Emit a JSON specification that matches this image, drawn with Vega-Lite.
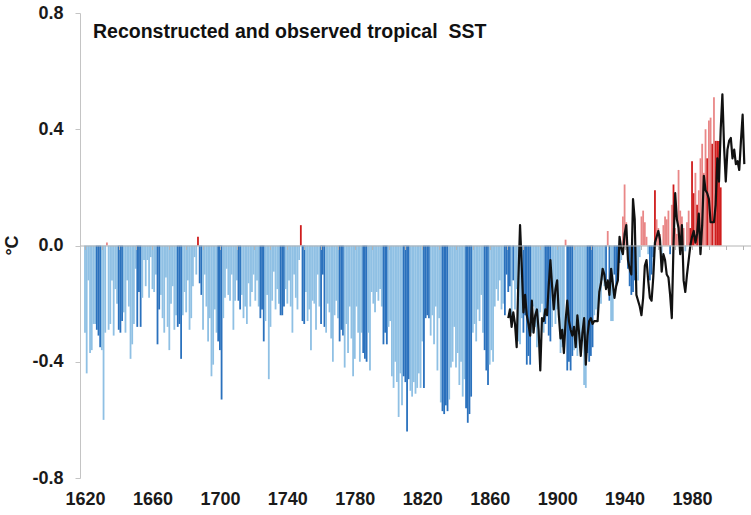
{
  "$schema": "https://vega.github.io/schema/vega-lite/v6.json",
  "width": 671,
  "height": 465,
  "autosize": {"type": "none"},
  "padding": {"left": 80, "top": 13, "right": 0, "bottom": 37},
  "background": "white",
  "config": {
    "view": {"stroke": null},
    "font": "Liberation Sans",
    "axis": {"labelFont": "Liberation Sans", "titleFont": "Liberation Sans", "grid": false}
  },
  "title": {
    "text": "Reconstructed and observed tropical\u00a0 SST",
    "anchor": "start",
    "frame": "group",
    "orient": "top",
    "offset": 0,
    "dx": 13,
    "dy": 53,
    "baseline": "alphabetic",
    "font": "Liberation Sans",
    "fontSize": 19.5,
    "fontWeight": "bold",
    "color": "#111111"
  },
  "datasets": {
    "reconstructed": [
      {"year": 1620, "anomaly": -0.30, "shade": "light"},
      {"year": 1621, "anomaly": -0.44, "shade": "light"},
      {"year": 1622, "anomaly": -0.12, "shade": "light"},
      {"year": 1623, "anomaly": -0.37, "shade": "light"},
      {"year": 1624, "anomaly": -0.36, "shade": "light"},
      {"year": 1625, "anomaly": -0.27, "shade": "light"},
      {"year": 1626, "anomaly": -0.27, "shade": "light"},
      {"year": 1627, "anomaly": -0.29, "shade": "dark"},
      {"year": 1628, "anomaly": -0.31, "shade": "dark"},
      {"year": 1629, "anomaly": -0.35, "shade": "dark"},
      {"year": 1630, "anomaly": -0.36, "shade": "light"},
      {"year": 1631, "anomaly": -0.60, "shade": "light"},
      {"year": 1632, "anomaly": -0.30, "shade": "light"},
      {"year": 1633, "anomaly": 0.01, "shade": "light"},
      {"year": 1634, "anomaly": -0.29, "shade": "light"},
      {"year": 1635, "anomaly": -0.27, "shade": "light"},
      {"year": 1636, "anomaly": -0.12, "shade": "light"},
      {"year": 1637, "anomaly": -0.31, "shade": "light"},
      {"year": 1638, "anomaly": -0.15, "shade": "light"},
      {"year": 1639, "anomaly": -0.20, "shade": "light"},
      {"year": 1640, "anomaly": -0.29, "shade": "dark"},
      {"year": 1641, "anomaly": -0.30, "shade": "dark"},
      {"year": 1642, "anomaly": -0.26, "shade": "dark"},
      {"year": 1643, "anomaly": -0.23, "shade": "light"},
      {"year": 1644, "anomaly": -0.30, "shade": "light"},
      {"year": 1645, "anomaly": -0.12, "shade": "light"},
      {"year": 1646, "anomaly": -0.21, "shade": "light"},
      {"year": 1647, "anomaly": -0.39, "shade": "light"},
      {"year": 1648, "anomaly": -0.34, "shade": "light"},
      {"year": 1649, "anomaly": -0.27, "shade": "light"},
      {"year": 1650, "anomaly": -0.08, "shade": "light"},
      {"year": 1651, "anomaly": -0.28, "shade": "dark"},
      {"year": 1652, "anomaly": -0.16, "shade": "dark"},
      {"year": 1653, "anomaly": -0.28, "shade": "dark"},
      {"year": 1654, "anomaly": -0.18, "shade": "light"},
      {"year": 1655, "anomaly": -0.05, "shade": "light"},
      {"year": 1656, "anomaly": -0.14, "shade": "light"},
      {"year": 1657, "anomaly": -0.05, "shade": "light"},
      {"year": 1658, "anomaly": -0.18, "shade": "light"},
      {"year": 1659, "anomaly": -0.04, "shade": "light"},
      {"year": 1660, "anomaly": -0.15, "shade": "light"},
      {"year": 1661, "anomaly": -0.16, "shade": "light"},
      {"year": 1662, "anomaly": -0.10, "shade": "light"},
      {"year": 1663, "anomaly": -0.34, "shade": "dark"},
      {"year": 1664, "anomaly": -0.22, "shade": "dark"},
      {"year": 1665, "anomaly": -0.17, "shade": "light"},
      {"year": 1666, "anomaly": -0.25, "shade": "light"},
      {"year": 1667, "anomaly": -0.30, "shade": "light"},
      {"year": 1668, "anomaly": -0.11, "shade": "light"},
      {"year": 1669, "anomaly": -0.28, "shade": "light"},
      {"year": 1670, "anomaly": -0.36, "shade": "light"},
      {"year": 1671, "anomaly": -0.20, "shade": "light"},
      {"year": 1672, "anomaly": -0.14, "shade": "light"},
      {"year": 1673, "anomaly": -0.29, "shade": "light"},
      {"year": 1674, "anomaly": -0.24, "shade": "light"},
      {"year": 1675, "anomaly": -0.28, "shade": "dark"},
      {"year": 1676, "anomaly": -0.27, "shade": "dark"},
      {"year": 1677, "anomaly": -0.39, "shade": "dark"},
      {"year": 1678, "anomaly": -0.24, "shade": "light"},
      {"year": 1679, "anomaly": -0.16, "shade": "light"},
      {"year": 1680, "anomaly": -0.23, "shade": "light"},
      {"year": 1681, "anomaly": -0.12, "shade": "light"},
      {"year": 1682, "anomaly": -0.29, "shade": "light"},
      {"year": 1683, "anomaly": -0.25, "shade": "light"},
      {"year": 1684, "anomaly": -0.14, "shade": "light"},
      {"year": 1685, "anomaly": -0.04, "shade": "light"},
      {"year": 1686, "anomaly": -0.10, "shade": "light"},
      {"year": 1687, "anomaly": 0.03, "shade": "dark"},
      {"year": 1688, "anomaly": -0.13, "shade": "dark"},
      {"year": 1689, "anomaly": -0.17, "shade": "dark"},
      {"year": 1690, "anomaly": -0.29, "shade": "light"},
      {"year": 1691, "anomaly": -0.10, "shade": "light"},
      {"year": 1692, "anomaly": -0.21, "shade": "light"},
      {"year": 1693, "anomaly": -0.33, "shade": "light"},
      {"year": 1694, "anomaly": -0.25, "shade": "light"},
      {"year": 1695, "anomaly": -0.45, "shade": "light"},
      {"year": 1696, "anomaly": -0.41, "shade": "light"},
      {"year": 1697, "anomaly": -0.22, "shade": "light"},
      {"year": 1698, "anomaly": -0.30, "shade": "light"},
      {"year": 1699, "anomaly": -0.33, "shade": "dark"},
      {"year": 1700, "anomaly": -0.36, "shade": "dark"},
      {"year": 1701, "anomaly": -0.53, "shade": "dark"},
      {"year": 1702, "anomaly": -0.25, "shade": "light"},
      {"year": 1703, "anomaly": -0.18, "shade": "light"},
      {"year": 1704, "anomaly": -0.08, "shade": "light"},
      {"year": 1705, "anomaly": -0.17, "shade": "light"},
      {"year": 1706, "anomaly": -0.19, "shade": "light"},
      {"year": 1707, "anomaly": -0.10, "shade": "light"},
      {"year": 1708, "anomaly": -0.29, "shade": "light"},
      {"year": 1709, "anomaly": -0.19, "shade": "light"},
      {"year": 1710, "anomaly": -0.12, "shade": "light"},
      {"year": 1711, "anomaly": -0.19, "shade": "dark"},
      {"year": 1712, "anomaly": -0.22, "shade": "dark"},
      {"year": 1713, "anomaly": -0.17, "shade": "light"},
      {"year": 1714, "anomaly": -0.25, "shade": "light"},
      {"year": 1715, "anomaly": -0.21, "shade": "light"},
      {"year": 1716, "anomaly": -0.27, "shade": "light"},
      {"year": 1717, "anomaly": -0.13, "shade": "light"},
      {"year": 1718, "anomaly": -0.21, "shade": "light"},
      {"year": 1719, "anomaly": -0.16, "shade": "light"},
      {"year": 1720, "anomaly": -0.10, "shade": "light"},
      {"year": 1721, "anomaly": -0.19, "shade": "light"},
      {"year": 1722, "anomaly": -0.12, "shade": "light"},
      {"year": 1723, "anomaly": -0.21, "shade": "light"},
      {"year": 1724, "anomaly": -0.25, "shade": "dark"},
      {"year": 1725, "anomaly": -0.22, "shade": "dark"},
      {"year": 1726, "anomaly": -0.33, "shade": "dark"},
      {"year": 1727, "anomaly": -0.26, "shade": "light"},
      {"year": 1728, "anomaly": -0.17, "shade": "light"},
      {"year": 1729, "anomaly": -0.46, "shade": "light"},
      {"year": 1730, "anomaly": -0.28, "shade": "light"},
      {"year": 1731, "anomaly": -0.19, "shade": "light"},
      {"year": 1732, "anomaly": -0.09, "shade": "light"},
      {"year": 1733, "anomaly": -0.22, "shade": "light"},
      {"year": 1734, "anomaly": -0.15, "shade": "light"},
      {"year": 1735, "anomaly": -0.20, "shade": "light"},
      {"year": 1736, "anomaly": -0.24, "shade": "dark"},
      {"year": 1737, "anomaly": -0.24, "shade": "dark"},
      {"year": 1738, "anomaly": -0.21, "shade": "dark"},
      {"year": 1739, "anomaly": -0.15, "shade": "light"},
      {"year": 1740, "anomaly": -0.20, "shade": "light"},
      {"year": 1741, "anomaly": -0.12, "shade": "light"},
      {"year": 1742, "anomaly": -0.21, "shade": "light"},
      {"year": 1743, "anomaly": -0.30, "shade": "light"},
      {"year": 1744, "anomaly": -0.10, "shade": "light"},
      {"year": 1745, "anomaly": -0.18, "shade": "light"},
      {"year": 1746, "anomaly": -0.22, "shade": "light"},
      {"year": 1747, "anomaly": -0.05, "shade": "light"},
      {"year": 1748, "anomaly": 0.07, "shade": "dark"},
      {"year": 1749, "anomaly": -0.26, "shade": "dark"},
      {"year": 1750, "anomaly": -0.27, "shade": "dark"},
      {"year": 1751, "anomaly": -0.16, "shade": "light"},
      {"year": 1752, "anomaly": -0.26, "shade": "light"},
      {"year": 1753, "anomaly": -0.22, "shade": "light"},
      {"year": 1754, "anomaly": -0.36, "shade": "light"},
      {"year": 1755, "anomaly": -0.19, "shade": "light"},
      {"year": 1756, "anomaly": -0.20, "shade": "light"},
      {"year": 1757, "anomaly": -0.29, "shade": "light"},
      {"year": 1758, "anomaly": -0.10, "shade": "light"},
      {"year": 1759, "anomaly": -0.21, "shade": "light"},
      {"year": 1760, "anomaly": -0.27, "shade": "dark"},
      {"year": 1761, "anomaly": -0.10, "shade": "dark"},
      {"year": 1762, "anomaly": -0.28, "shade": "dark"},
      {"year": 1763, "anomaly": -0.30, "shade": "light"},
      {"year": 1764, "anomaly": -0.20, "shade": "light"},
      {"year": 1765, "anomaly": -0.23, "shade": "light"},
      {"year": 1766, "anomaly": -0.32, "shade": "light"},
      {"year": 1767, "anomaly": -0.40, "shade": "light"},
      {"year": 1768, "anomaly": -0.24, "shade": "light"},
      {"year": 1769, "anomaly": -0.19, "shade": "light"},
      {"year": 1770, "anomaly": -0.25, "shade": "light"},
      {"year": 1771, "anomaly": -0.33, "shade": "dark"},
      {"year": 1772, "anomaly": -0.29, "shade": "dark"},
      {"year": 1773, "anomaly": -0.31, "shade": "dark"},
      {"year": 1774, "anomaly": -0.42, "shade": "light"},
      {"year": 1775, "anomaly": -0.27, "shade": "light"},
      {"year": 1776, "anomaly": -0.37, "shade": "light"},
      {"year": 1777, "anomaly": -0.21, "shade": "light"},
      {"year": 1778, "anomaly": -0.32, "shade": "light"},
      {"year": 1779, "anomaly": -0.45, "shade": "light"},
      {"year": 1780, "anomaly": -0.39, "shade": "light"},
      {"year": 1781, "anomaly": -0.21, "shade": "light"},
      {"year": 1782, "anomaly": -0.30, "shade": "light"},
      {"year": 1783, "anomaly": -0.40, "shade": "light"},
      {"year": 1784, "anomaly": -0.30, "shade": "light"},
      {"year": 1785, "anomaly": -0.37, "shade": "dark"},
      {"year": 1786, "anomaly": -0.39, "shade": "dark"},
      {"year": 1787, "anomaly": -0.40, "shade": "dark"},
      {"year": 1788, "anomaly": -0.30, "shade": "light"},
      {"year": 1789, "anomaly": -0.43, "shade": "light"},
      {"year": 1790, "anomaly": -0.16, "shade": "light"},
      {"year": 1791, "anomaly": -0.20, "shade": "light"},
      {"year": 1792, "anomaly": -0.23, "shade": "light"},
      {"year": 1793, "anomaly": -0.16, "shade": "light"},
      {"year": 1794, "anomaly": -0.19, "shade": "light"},
      {"year": 1795, "anomaly": -0.15, "shade": "light"},
      {"year": 1796, "anomaly": -0.21, "shade": "light"},
      {"year": 1797, "anomaly": -0.34, "shade": "dark"},
      {"year": 1798, "anomaly": -0.30, "shade": "dark"},
      {"year": 1799, "anomaly": -0.34, "shade": "dark"},
      {"year": 1800, "anomaly": -0.28, "shade": "light"},
      {"year": 1801, "anomaly": -0.26, "shade": "light"},
      {"year": 1802, "anomaly": -0.45, "shade": "light"},
      {"year": 1803, "anomaly": -0.49, "shade": "light"},
      {"year": 1804, "anomaly": -0.40, "shade": "light"},
      {"year": 1805, "anomaly": -0.47, "shade": "light"},
      {"year": 1806, "anomaly": -0.59, "shade": "light"},
      {"year": 1807, "anomaly": -0.44, "shade": "light"},
      {"year": 1808, "anomaly": -0.55, "shade": "light"},
      {"year": 1809, "anomaly": -0.45, "shade": "dark"},
      {"year": 1810, "anomaly": -0.47, "shade": "dark"},
      {"year": 1811, "anomaly": -0.64, "shade": "dark"},
      {"year": 1812, "anomaly": -0.46, "shade": "dark"},
      {"year": 1813, "anomaly": -0.50, "shade": "light"},
      {"year": 1814, "anomaly": -0.52, "shade": "light"},
      {"year": 1815, "anomaly": -0.47, "shade": "light"},
      {"year": 1816, "anomaly": -0.51, "shade": "light"},
      {"year": 1817, "anomaly": -0.49, "shade": "light"},
      {"year": 1818, "anomaly": -0.44, "shade": "light"},
      {"year": 1819, "anomaly": -0.49, "shade": "light"},
      {"year": 1820, "anomaly": -0.33, "shade": "light"},
      {"year": 1821, "anomaly": -0.49, "shade": "dark"},
      {"year": 1822, "anomaly": -0.25, "shade": "dark"},
      {"year": 1823, "anomaly": -0.24, "shade": "dark"},
      {"year": 1824, "anomaly": -0.25, "shade": "dark"},
      {"year": 1825, "anomaly": -0.31, "shade": "light"},
      {"year": 1826, "anomaly": -0.24, "shade": "light"},
      {"year": 1827, "anomaly": -0.34, "shade": "light"},
      {"year": 1828, "anomaly": -0.21, "shade": "light"},
      {"year": 1829, "anomaly": -0.43, "shade": "light"},
      {"year": 1830, "anomaly": -0.25, "shade": "light"},
      {"year": 1831, "anomaly": -0.54, "shade": "light"},
      {"year": 1832, "anomaly": -0.57, "shade": "dark"},
      {"year": 1833, "anomaly": -0.58, "shade": "dark"},
      {"year": 1834, "anomaly": -0.55, "shade": "dark"},
      {"year": 1835, "anomaly": -0.57, "shade": "dark"},
      {"year": 1836, "anomaly": -0.53, "shade": "light"},
      {"year": 1837, "anomaly": -0.42, "shade": "light"},
      {"year": 1838, "anomaly": -0.40, "shade": "light"},
      {"year": 1839, "anomaly": -0.28, "shade": "light"},
      {"year": 1840, "anomaly": -0.42, "shade": "light"},
      {"year": 1841, "anomaly": -0.37, "shade": "light"},
      {"year": 1842, "anomaly": -0.48, "shade": "light"},
      {"year": 1843, "anomaly": -0.40, "shade": "light"},
      {"year": 1844, "anomaly": -0.52, "shade": "light"},
      {"year": 1845, "anomaly": -0.46, "shade": "light"},
      {"year": 1846, "anomaly": -0.56, "shade": "dark"},
      {"year": 1847, "anomaly": -0.61, "shade": "dark"},
      {"year": 1848, "anomaly": -0.58, "shade": "dark"},
      {"year": 1849, "anomaly": -0.52, "shade": "dark"},
      {"year": 1850, "anomaly": -0.30, "shade": "light"},
      {"year": 1851, "anomaly": -0.27, "shade": "light"},
      {"year": 1852, "anomaly": -0.33, "shade": "light"},
      {"year": 1853, "anomaly": -0.22, "shade": "light"},
      {"year": 1854, "anomaly": -0.26, "shade": "light"},
      {"year": 1855, "anomaly": -0.17, "shade": "light"},
      {"year": 1856, "anomaly": -0.30, "shade": "light"},
      {"year": 1857, "anomaly": -0.36, "shade": "dark"},
      {"year": 1858, "anomaly": -0.43, "shade": "dark"},
      {"year": 1859, "anomaly": -0.48, "shade": "dark"},
      {"year": 1860, "anomaly": -0.41, "shade": "light"},
      {"year": 1861, "anomaly": -0.36, "shade": "light"},
      {"year": 1862, "anomaly": -0.40, "shade": "light"},
      {"year": 1863, "anomaly": -0.21, "shade": "light"},
      {"year": 1864, "anomaly": -0.15, "shade": "light"},
      {"year": 1865, "anomaly": -0.19, "shade": "light"},
      {"year": 1866, "anomaly": -0.12, "shade": "light"},
      {"year": 1867, "anomaly": -0.22, "shade": "light"},
      {"year": 1868, "anomaly": -0.20, "shade": "light"},
      {"year": 1869, "anomaly": -0.24, "shade": "dark"},
      {"year": 1870, "anomaly": -0.10, "shade": "dark"},
      {"year": 1871, "anomaly": -0.16, "shade": "dark"},
      {"year": 1872, "anomaly": -0.14, "shade": "dark"},
      {"year": 1873, "anomaly": -0.25, "shade": "light"},
      {"year": 1874, "anomaly": -0.12, "shade": "dark"},
      {"year": 1875, "anomaly": -0.22, "shade": "light"},
      {"year": 1876, "anomaly": -0.15, "shade": "light"},
      {"year": 1877, "anomaly": -0.33, "shade": "light"},
      {"year": 1878, "anomaly": -0.34, "shade": "light"},
      {"year": 1879, "anomaly": -0.25, "shade": "light"},
      {"year": 1880, "anomaly": -0.30, "shade": "dark"},
      {"year": 1881, "anomaly": -0.24, "shade": "dark"},
      {"year": 1882, "anomaly": -0.41, "shade": "dark"},
      {"year": 1883, "anomaly": -0.38, "shade": "dark"},
      {"year": 1884, "anomaly": -0.41, "shade": "dark"},
      {"year": 1885, "anomaly": -0.30, "shade": "light"},
      {"year": 1886, "anomaly": -0.21, "shade": "light"},
      {"year": 1887, "anomaly": -0.28, "shade": "light"},
      {"year": 1888, "anomaly": -0.35, "shade": "light"},
      {"year": 1889, "anomaly": -0.33, "shade": "light"},
      {"year": 1890, "anomaly": -0.23, "shade": "light"},
      {"year": 1891, "anomaly": -0.20, "shade": "light"},
      {"year": 1892, "anomaly": -0.30, "shade": "light"},
      {"year": 1893, "anomaly": -0.27, "shade": "dark"},
      {"year": 1894, "anomaly": -0.24, "shade": "dark"},
      {"year": 1895, "anomaly": -0.31, "shade": "dark"},
      {"year": 1896, "anomaly": -0.33, "shade": "dark"},
      {"year": 1897, "anomaly": -0.28, "shade": "light"},
      {"year": 1898, "anomaly": -0.18, "shade": "light"},
      {"year": 1899, "anomaly": -0.27, "shade": "light"},
      {"year": 1900, "anomaly": -0.22, "shade": "light"},
      {"year": 1901, "anomaly": -0.24, "shade": "light"},
      {"year": 1902, "anomaly": -0.37, "shade": "light"},
      {"year": 1903, "anomaly": -0.35, "shade": "light"},
      {"year": 1904, "anomaly": -0.37, "shade": "light"},
      {"year": 1905, "anomaly": 0.02, "shade": "light"},
      {"year": 1906, "anomaly": -0.43, "shade": "dark"},
      {"year": 1907, "anomaly": -0.40, "shade": "dark"},
      {"year": 1908, "anomaly": -0.43, "shade": "dark"},
      {"year": 1909, "anomaly": -0.38, "shade": "dark"},
      {"year": 1910, "anomaly": -0.36, "shade": "light"},
      {"year": 1911, "anomaly": -0.32, "shade": "light"},
      {"year": 1912, "anomaly": -0.38, "shade": "light"},
      {"year": 1913, "anomaly": -0.30, "shade": "light"},
      {"year": 1914, "anomaly": -0.34, "shade": "light"},
      {"year": 1915, "anomaly": -0.33, "shade": "light"},
      {"year": 1916, "anomaly": -0.48, "shade": "light"},
      {"year": 1917, "anomaly": -0.49, "shade": "light"},
      {"year": 1918, "anomaly": -0.37, "shade": "dark"},
      {"year": 1919, "anomaly": -0.40, "shade": "dark"},
      {"year": 1920, "anomaly": -0.38, "shade": "dark"},
      {"year": 1921, "anomaly": -0.35, "shade": "dark"},
      {"year": 1922, "anomaly": -0.24, "shade": "light"},
      {"year": 1923, "anomaly": -0.22, "shade": "light"},
      {"year": 1924, "anomaly": -0.24, "shade": "light"},
      {"year": 1925, "anomaly": -0.16, "shade": "light"},
      {"year": 1926, "anomaly": -0.20, "shade": "light"},
      {"year": 1927, "anomaly": -0.12, "shade": "light"},
      {"year": 1928, "anomaly": -0.14, "shade": "light"},
      {"year": 1929, "anomaly": -0.12, "shade": "dark"},
      {"year": 1930, "anomaly": 0.05, "shade": "light"},
      {"year": 1931, "anomaly": -0.19, "shade": "dark"},
      {"year": 1932, "anomaly": -0.26, "shade": "light"},
      {"year": 1933, "anomaly": -0.26, "shade": "light"},
      {"year": 1934, "anomaly": -0.10, "shade": "dark"},
      {"year": 1935, "anomaly": -0.14, "shade": "dark"},
      {"year": 1936, "anomaly": -0.09, "shade": "dark"},
      {"year": 1937, "anomaly": -0.06, "shade": "dark"},
      {"year": 1938, "anomaly": -0.05, "shade": "light"},
      {"year": 1939, "anomaly": 0.10, "shade": "light"},
      {"year": 1940, "anomaly": 0.21, "shade": "light"},
      {"year": 1941, "anomaly": 0.08, "shade": "light"},
      {"year": 1942, "anomaly": -0.08, "shade": "dark"},
      {"year": 1943, "anomaly": -0.14, "shade": "dark"},
      {"year": 1944, "anomaly": -0.17, "shade": "dark"},
      {"year": 1945, "anomaly": -0.16, "shade": "dark"},
      {"year": 1946, "anomaly": -0.12, "shade": "dark"},
      {"year": 1947, "anomaly": -0.10, "shade": "light"},
      {"year": 1948, "anomaly": -0.12, "shade": "light"},
      {"year": 1949, "anomaly": -0.04, "shade": "light"},
      {"year": 1950, "anomaly": 0.10, "shade": "light"},
      {"year": 1951, "anomaly": 0.12, "shade": "light"},
      {"year": 1952, "anomaly": 0.08, "shade": "light"},
      {"year": 1953, "anomaly": 0.03, "shade": "light"},
      {"year": 1954, "anomaly": -0.03, "shade": "light"},
      {"year": 1955, "anomaly": -0.12, "shade": "dark"},
      {"year": 1956, "anomaly": -0.10, "shade": "dark"},
      {"year": 1957, "anomaly": -0.04, "shade": "dark"},
      {"year": 1958, "anomaly": 0.19, "shade": "dark"},
      {"year": 1959, "anomaly": 0.09, "shade": "light"},
      {"year": 1960, "anomaly": 0.06, "shade": "light"},
      {"year": 1961, "anomaly": 0.04, "shade": "light"},
      {"year": 1962, "anomaly": -0.05, "shade": "light"},
      {"year": 1963, "anomaly": 0.07, "shade": "light"},
      {"year": 1964, "anomaly": 0.10, "shade": "light"},
      {"year": 1965, "anomaly": 0.09, "shade": "light"},
      {"year": 1966, "anomaly": 0.12, "shade": "light"},
      {"year": 1967, "anomaly": -0.03, "shade": "dark"},
      {"year": 1968, "anomaly": 0.14, "shade": "light"},
      {"year": 1969, "anomaly": 0.21, "shade": "dark"},
      {"year": 1970, "anomaly": 0.06, "shade": "light"},
      {"year": 1971, "anomaly": 0.04, "shade": "light"},
      {"year": 1972, "anomaly": 0.26, "shade": "light"},
      {"year": 1973, "anomaly": 0.12, "shade": "light"},
      {"year": 1974, "anomaly": 0.10, "shade": "light"},
      {"year": 1975, "anomaly": 0.06, "shade": "light"},
      {"year": 1976, "anomaly": -0.02, "shade": "light"},
      {"year": 1977, "anomaly": 0.08, "shade": "light"},
      {"year": 1978, "anomaly": 0.12, "shade": "light"},
      {"year": 1979, "anomaly": 0.06, "shade": "dark"},
      {"year": 1980, "anomaly": 0.29, "shade": "dark"},
      {"year": 1981, "anomaly": 0.18, "shade": "dark"},
      {"year": 1982, "anomaly": 0.25, "shade": "light"},
      {"year": 1983, "anomaly": 0.14, "shade": "dark"},
      {"year": 1984, "anomaly": 0.19, "shade": "light"},
      {"year": 1985, "anomaly": 0.30, "shade": "light"},
      {"year": 1986, "anomaly": 0.35, "shade": "light"},
      {"year": 1987, "anomaly": 0.25, "shade": "light"},
      {"year": 1988, "anomaly": 0.40, "shade": "light"},
      {"year": 1989, "anomaly": 0.30, "shade": "dark"},
      {"year": 1990, "anomaly": 0.43, "shade": "light"},
      {"year": 1991, "anomaly": 0.44, "shade": "light"},
      {"year": 1992, "anomaly": 0.35, "shade": "dark"},
      {"year": 1993, "anomaly": 0.51, "shade": "light"},
      {"year": 1994, "anomaly": 0.36, "shade": "dark"},
      {"year": 1995, "anomaly": 0.36, "shade": "dark"},
      {"year": 1996, "anomaly": 0.36, "shade": "dark"},
      {"year": 1997, "anomaly": 0.20, "shade": "dark"}
    ],
    "observed": [
      {"year": 1871, "anomaly": -0.25}, {"year": 1872, "anomaly": -0.22}, {"year": 1873, "anomaly": -0.28},
      {"year": 1874, "anomaly": -0.23}, {"year": 1875, "anomaly": -0.27}, {"year": 1876, "anomaly": -0.35},
      {"year": 1877, "anomaly": -0.12}, {"year": 1878, "anomaly": 0.07}, {"year": 1879, "anomaly": -0.07},
      {"year": 1880, "anomaly": -0.23}, {"year": 1881, "anomaly": -0.17}, {"year": 1882, "anomaly": -0.24},
      {"year": 1883, "anomaly": -0.27}, {"year": 1884, "anomaly": -0.31}, {"year": 1885, "anomaly": -0.19},
      {"year": 1886, "anomaly": -0.30}, {"year": 1887, "anomaly": -0.24}, {"year": 1888, "anomaly": -0.22},
      {"year": 1889, "anomaly": -0.29}, {"year": 1890, "anomaly": -0.43}, {"year": 1891, "anomaly": -0.25},
      {"year": 1892, "anomaly": -0.26}, {"year": 1893, "anomaly": -0.22}, {"year": 1894, "anomaly": -0.24},
      {"year": 1895, "anomaly": -0.14}, {"year": 1896, "anomaly": -0.05}, {"year": 1897, "anomaly": -0.14},
      {"year": 1898, "anomaly": -0.22}, {"year": 1899, "anomaly": -0.15}, {"year": 1900, "anomaly": -0.12},
      {"year": 1901, "anomaly": -0.24}, {"year": 1902, "anomaly": -0.32}, {"year": 1903, "anomaly": -0.29},
      {"year": 1904, "anomaly": -0.37}, {"year": 1905, "anomaly": -0.26}, {"year": 1906, "anomaly": -0.19},
      {"year": 1907, "anomaly": -0.26}, {"year": 1908, "anomaly": -0.29}, {"year": 1909, "anomaly": -0.31},
      {"year": 1910, "anomaly": -0.28}, {"year": 1911, "anomaly": -0.35}, {"year": 1912, "anomaly": -0.24},
      {"year": 1913, "anomaly": -0.30}, {"year": 1914, "anomaly": -0.38}, {"year": 1915, "anomaly": -0.30},
      {"year": 1916, "anomaly": -0.25}, {"year": 1917, "anomaly": -0.41}, {"year": 1918, "anomaly": -0.31},
      {"year": 1919, "anomaly": -0.26}, {"year": 1920, "anomaly": -0.25}, {"year": 1921, "anomaly": -0.27},
      {"year": 1922, "anomaly": -0.26}, {"year": 1923, "anomaly": -0.26}, {"year": 1924, "anomaly": -0.26},
      {"year": 1925, "anomaly": -0.16}, {"year": 1926, "anomaly": -0.13}, {"year": 1927, "anomaly": -0.08},
      {"year": 1928, "anomaly": -0.10}, {"year": 1929, "anomaly": -0.15}, {"year": 1930, "anomaly": -0.12},
      {"year": 1931, "anomaly": -0.17}, {"year": 1932, "anomaly": -0.08}, {"year": 1933, "anomaly": -0.13},
      {"year": 1934, "anomaly": -0.18}, {"year": 1935, "anomaly": -0.14}, {"year": 1936, "anomaly": -0.12},
      {"year": 1937, "anomaly": 0.03}, {"year": 1938, "anomaly": -0.01}, {"year": 1939, "anomaly": -0.03},
      {"year": 1940, "anomaly": 0.04}, {"year": 1941, "anomaly": 0.07}, {"year": 1942, "anomaly": -0.05},
      {"year": 1943, "anomaly": -0.08}, {"year": 1944, "anomaly": -0.10}, {"year": 1945, "anomaly": 0.16},
      {"year": 1946, "anomaly": 0.09}, {"year": 1947, "anomaly": -0.17}, {"year": 1948, "anomaly": -0.19},
      {"year": 1949, "anomaly": -0.21}, {"year": 1950, "anomaly": -0.24}, {"year": 1951, "anomaly": -0.18},
      {"year": 1952, "anomaly": -0.07}, {"year": 1953, "anomaly": -0.05}, {"year": 1954, "anomaly": -0.12},
      {"year": 1955, "anomaly": -0.18}, {"year": 1956, "anomaly": -0.19}, {"year": 1957, "anomaly": -0.11},
      {"year": 1958, "anomaly": 0.01}, {"year": 1959, "anomaly": 0.03}, {"year": 1960, "anomaly": 0.05},
      {"year": 1961, "anomaly": 0.02}, {"year": 1962, "anomaly": -0.09}, {"year": 1963, "anomaly": -0.03},
      {"year": 1964, "anomaly": -0.05}, {"year": 1965, "anomaly": -0.10}, {"year": 1966, "anomaly": -0.11},
      {"year": 1967, "anomaly": -0.17}, {"year": 1968, "anomaly": -0.25}, {"year": 1969, "anomaly": 0.00},
      {"year": 1970, "anomaly": 0.18}, {"year": 1971, "anomaly": 0.09}, {"year": 1972, "anomaly": 0.06},
      {"year": 1973, "anomaly": -0.03}, {"year": 1974, "anomaly": 0.07}, {"year": 1975, "anomaly": -0.12},
      {"year": 1976, "anomaly": -0.16}, {"year": 1977, "anomaly": -0.10}, {"year": 1978, "anomaly": -0.05},
      {"year": 1979, "anomaly": 0.00}, {"year": 1980, "anomaly": 0.03}, {"year": 1981, "anomaly": 0.05},
      {"year": 1982, "anomaly": 0.01}, {"year": 1983, "anomaly": 0.04}, {"year": 1984, "anomaly": 0.11},
      {"year": 1985, "anomaly": -0.03}, {"year": 1986, "anomaly": 0.07}, {"year": 1987, "anomaly": 0.24},
      {"year": 1988, "anomaly": 0.19}, {"year": 1989, "anomaly": 0.18}, {"year": 1990, "anomaly": 0.16},
      {"year": 1991, "anomaly": 0.08}, {"year": 1992, "anomaly": 0.08}, {"year": 1993, "anomaly": 0.08},
      {"year": 1994, "anomaly": 0.14}, {"year": 1995, "anomaly": 0.30}, {"year": 1996, "anomaly": 0.22},
      {"year": 1997, "anomaly": 0.40}, {"year": 1998, "anomaly": 0.52}, {"year": 1999, "anomaly": 0.34},
      {"year": 2000, "anomaly": 0.22}, {"year": 2001, "anomaly": 0.33}, {"year": 2002, "anomaly": 0.36},
      {"year": 2003, "anomaly": 0.37}, {"year": 2004, "anomaly": 0.30}, {"year": 2005, "anomaly": 0.33},
      {"year": 2006, "anomaly": 0.28}, {"year": 2007, "anomaly": 0.29}, {"year": 2008, "anomaly": 0.26},
      {"year": 2009, "anomaly": 0.36}, {"year": 2010, "anomaly": 0.45}, {"year": 2011, "anomaly": 0.28}
    ]
  },
  "layer": [
    {
      "data": {"name": "reconstructed"},
      "mark": {"type": "bar", "size": 1.8},
      "encoding": {
        "x": {
          "field": "year",
          "type": "quantitative",
          "scale": {"domain": [1620, 2012], "nice": false, "zero": false},
          "axis": {
            "orient": "bottom",
            "values": [1620, 1660, 1700, 1740, 1780, 1820, 1860, 1900, 1940, 1980],
            "format": "d",
            "domain": false,
            "ticks": false,
            "labelFontSize": 18,
            "labelFontWeight": "bold",
            "labelColor": "#1a1a1a",
            "labelPadding": 12,
            "labelFlush": false,
            "labelOverlap": false,
            "title": null
          }
        },
        "y": {
          "field": "anomaly",
          "type": "quantitative",
          "scale": {"domain": [-0.8, 0.8], "nice": false},
          "axis": {
            "values": [-0.8, -0.4, 0, 0.4, 0.8],
            "labelExpr": "replace(format(datum.value, '.1f'), '\u2212', '-')",
            "domainColor": "#c4c4c4",
            "tickColor": "#c4c4c4",
            "tickSize": 5,
            "labelFontSize": 18,
            "labelFontWeight": "bold",
            "labelColor": "#1a1a1a",
            "labelPadding": 12,
            "title": "°C",
            "titleFontSize": 18,
            "titleFontWeight": "bold",
            "titleColor": "#1a1a1a",
            "titleX": -68,
            "titleY": 232,
            "titleAlign": "center",
            "titleBaseline": "middle"
          }
        },
        "color": {
          "condition": [
            {"test": "datum.anomaly >= 0 && datum.shade === 'dark'", "value": "#cf1d1d"},
            {"test": "datum.anomaly >= 0", "value": "#e98787"},
            {"test": "datum.shade === 'dark'", "value": "#2a71bd"}
          ],
          "value": "#8fc0e4"
        }
      }
    },
    {
      "data": {"name": "observed"},
      "mark": {"type": "line", "color": "#111111", "strokeWidth": 2.2, "strokeJoin": "round"},
      "encoding": {
        "x": {
          "field": "year",
          "type": "quantitative",
          "axis": {
            "orient": "bottom",
            "offset": -232.5,
            "values": [1620, 1630, 1640, 1650, 1660, 1670, 1680, 1690, 1700, 1710, 1720, 1730, 1740, 1750, 1760, 1770, 1780, 1790, 1800, 1810, 1820, 1830, 1840, 1850, 1860, 1870, 1880, 1890, 1900, 1910, 1920, 1930, 1940, 1950, 1960, 1970, 1980, 1990, 2000, 2010],
            "labels": false,
            "domainColor": "#b4b4b4",
            "tickColor": "#b4b4b4",
            "tickSize": 4,
            "title": null,
            "zindex": 1
          }
        },
        "y": {"field": "anomaly", "type": "quantitative"}
      }
    }
  ],
  "resolve": {"axis": {"x": "independent"}}
}
